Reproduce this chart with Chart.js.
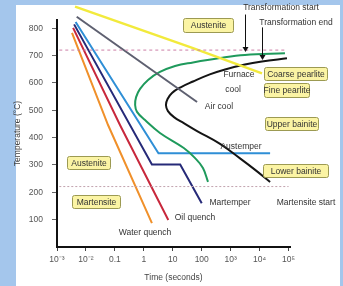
<!DOCTYPE html>
<html>
<head>
<meta charset="utf-8">
<script src="https://cdn.jsdelivr.net/npm/chart.js@4.4.0/dist/chart.umd.min.js"></script>
<style>
  html, body { margin: 0; padding: 0; background: #a4c6ec; overflow: hidden; }
  #panel { position: absolute; left: 16px; top: 5px; width: 324px; height: 281px; background: #fff; }
  #wrap { position: absolute; left: 0; top: 0; width: 343px; height: 286px; }
</style>
</head>
<body>
<div id="panel"></div>
<div id="wrap"><canvas id="ttt"></canvas></div>
<script>
// axis ticks
const tempTicks = [100, 200, 300, 400, 500, 600, 700, 800];
const timeTicks = [0.001, 0.01, 0.1, 1, 10, 100, 1000, 10000, 100000];
const timeLabels = ['10⁻³', '10⁻²', '0.1', '1', '10', '100', '10³', '10⁴', '10⁵'];

// cooling paths: time (s) / temperature (°C)
const furnaceTime = [0.0042, 50, 12100];
const furnaceTemp = [879, 727, 635];
const airTime = [0.0048, 69];
const airTemp = [842, 530];
const austemperTime = [0.0044, 3.2, 23000];
const austemperTemp = [823, 343, 343];
const martemperTime = [0.0039, 1.9, 18, 100];
const martemperTemp = [814, 302, 302, 160];
const oilTime = [0.0036, 0.15, 7];
const oilTemp = [801, 446, 99];
const waterTime = [0.0033, 0.058, 1.9];
const waterTemp = [783, 446, 87];

// transformation start / end C-curves
const startTime = [75000, 3100, 430, 50, 12, 3.6, 1.4, 0.74, 0.54, 0.5, 0.58, 1.1, 3.6, 24, 59, 110, 165];
const startTemp = [708, 702, 691, 675, 662, 640, 611, 578, 548, 519, 494, 464, 417, 362, 325, 289, 238];
const endTime = [88000, 12000, 3100, 640, 190, 50, 18, 9.4, 6.6, 5.8, 6.8, 11, 24, 69, 430, 2100, 7000, 23000];
const endTemp = [690, 678, 667, 649, 631, 605, 583, 563, 541, 519, 497, 475, 453, 424, 377, 324, 282, 238];

// reference lines (A1 and Ms)
const a1Time = [0.0012, 80000];
const a1Temp = [720, 720];
const msTime = [0.0012, 100000];
const msTemp = [221, 221];

// arrows from "Transformation start/end"
const arrowTime = [3130, 12100];
const arrowFrom = [850, 803];
const arrowTo = [713, 684];

const boxes = [
  { text: 'Austenite', x: 183, y: 18, w: 50, h: 14 },
  { text: 'Coarse pearlite', x: 264, y: 67, w: 63, h: 13 },
  { text: 'Fine pearlite', x: 264, y: 83, w: 45, h: 14 },
  { text: 'Upper bainite', x: 265, y: 117, w: 53, h: 13 },
  { text: 'Lower bainite', x: 263, y: 164, w: 65, h: 13 },
  { text: 'Austenite', x: 67, y: 156, w: 43, h: 13 },
  { text: 'Martensite', x: 72, y: 195, w: 48, h: 13 }
];
const notes = [
  { text: 'Transformation start', x: 281, y: 8 },
  { text: 'Transformation end', x: 296, y: 23 },
  { text: 'Furnace', x: 239, y: 75 },
  { text: 'cool', x: 233, y: 90 },
  { text: 'Air cool', x: 219, y: 107 },
  { text: 'Austemper', x: 241, y: 147 },
  { text: 'Martemper', x: 230, y: 203 },
  { text: 'Martensite start', x: 306, y: 203 },
  { text: 'Oil quench', x: 195, y: 218 },
  { text: 'Water quench', x: 145, y: 233 }
];

const FONT = '"Liberation Sans", Arial, sans-serif';

function pts(ts, vs) {
  return ts.map((t, i) => ({ x: t, y: vs[i] }));
}

function line(label, ts, vs, color, extra) {
  return Object.assign({
    label: label,
    data: pts(ts, vs),
    borderColor: color,
    borderWidth: 2,
    pointRadius: 0,
    fill: false,
    tension: 0,
    clip: false
  }, extra || {});
}

const notesPlugin = {
  id: 'notes',
  afterDatasetsDraw(chart) {
    const ctx = chart.ctx;
    const xs = chart.scales.x, ys = chart.scales.y;
    ctx.save();
    // arrows
    ctx.strokeStyle = '#111';
    ctx.fillStyle = '#111';
    ctx.lineWidth = 1;
    arrowTime.forEach((t, i) => {
      const px = Math.round(xs.getPixelForValue(t)) + 0.5;
      const y0 = ys.getPixelForValue(arrowFrom[i]);
      const y1 = ys.getPixelForValue(arrowTo[i]);
      ctx.beginPath();
      ctx.moveTo(px, y0);
      ctx.lineTo(px, y1 - 4);
      ctx.stroke();
      ctx.beginPath();
      ctx.moveTo(px - 3, y1 - 5);
      ctx.lineTo(px + 3, y1 - 5);
      ctx.lineTo(px, y1);
      ctx.closePath();
      ctx.fill();
    });

    ctx.font = '8.5px ' + FONT;
    ctx.textAlign = 'center';
    ctx.textBaseline = 'middle';
    boxes.forEach(b => {
      ctx.beginPath();
      ctx.roundRect(b.x + 0.5, b.y + 0.5, b.w, b.h, 2);
      ctx.fillStyle = '#fbf4a4';
      ctx.fill();
      ctx.strokeStyle = '#9c9a52';
      ctx.lineWidth = 1;
      ctx.stroke();
      ctx.fillStyle = '#333';
      ctx.fillText(b.text, b.x + b.w / 2 + 0.5, b.y + b.h / 2 + 1);
    });
    ctx.fillStyle = '#333';
    notes.forEach(n => ctx.fillText(n.text, n.x, n.y));
    ctx.restore();
  }
};

new Chart(document.getElementById('ttt'), {
  type: 'line',
  data: {
    datasets: [
      line('A1', a1Time, a1Temp, '#cc7fa6', { borderWidth: 1, borderDash: [3, 3] }),
      line('Ms', msTime, msTemp, '#c2a2ae', { borderWidth: 1, borderDash: [2, 2] }),
      line('Furnace cool', furnaceTime, furnaceTemp, '#f2ea3c', { borderWidth: 2.5 }),
      line('Air cool', airTime, airTemp, '#5e6070'),
      line('Transformation start', startTime, startTemp, '#1f9a5c', { tension: 0.4 }),
      line('Transformation end', endTime, endTemp, '#141414', { tension: 0.4 }),
      line('Austemper', austemperTime, austemperTemp, '#2f8fd6'),
      line('Martemper', martemperTime, martemperTemp, '#262a78'),
      line('Oil quench', oilTime, oilTemp, '#c8283c'),
      line('Water quench', waterTime, waterTemp, '#f0902a')
    ]
  },
  options: {
    responsive: true,
    maintainAspectRatio: false,
    animation: false,
    layout: { padding: { left: 0, right: 53, top: 20, bottom: 0 } },
    plugins: { legend: { display: false }, tooltip: { enabled: false } },
    scales: {
      x: {
        type: 'logarithmic',
        min: 0.001,
        max: 112000,
        afterBuildTicks: s => { s.ticks = timeTicks.map(v => ({ value: v })); },
        afterFit: s => { s.height = 39; },
        ticks: {
          autoSkip: false,
          maxRotation: 0,
          padding: 4,
          color: '#555',
          font: { family: FONT, size: 8.5 },
          callback: (v, i) => timeLabels[i]
        },
        grid: { drawOnChartArea: false, tickLength: 4, tickColor: '#444' },
        border: { color: '#111', width: 2 },
        title: {
          display: true,
          text: 'Time (seconds)',
          color: '#444',
          font: { family: FONT, size: 8.5 },
          padding: { top: 0, bottom: 3 }
        }
      },
      y: {
        min: 0,
        max: 830,
        afterBuildTicks: s => { s.ticks = tempTicks.map(v => ({ value: v })); },
        afterFit: s => { s.width = 57; },
        ticks: {
          padding: 2,
          color: '#555',
          font: { family: FONT, size: 8.5 }
        },
        grid: { drawOnChartArea: false, tickLength: 12, tickColor: '#666', tickBorderDash: [0, 7, 5, 0] },
        border: { color: '#111', width: 2 },
        title: {
          display: true,
          text: 'Temperature (°C)',
          color: '#444',
          font: { family: FONT, size: 8.5 },
          padding: { top: 13, bottom: 0 }
        }
      }
    }
  },
  plugins: [notesPlugin]
});
</script>
</body>
</html>
